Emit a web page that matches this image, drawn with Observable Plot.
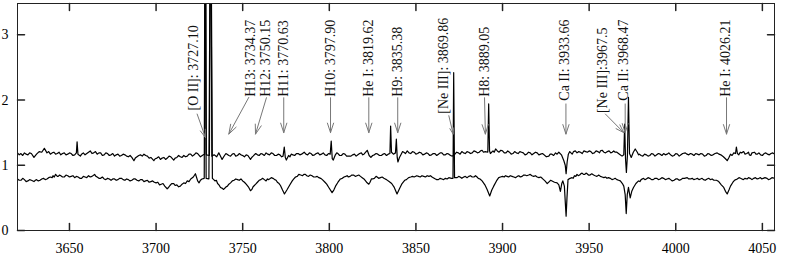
<!DOCTYPE html>
<html>
<head>
<meta charset="utf-8">
<script src="https://cdn.jsdelivr.net/npm/d3@7"></script>
<script src="https://cdn.jsdelivr.net/npm/@observablehq/plot@0.6"></script>
<style>
  html, body { margin: 0; padding: 0; background: #fff; }
  #chart svg { display: block; }
</style>
</head>
<body>
<div id="chart"></div>
<script>
// ---- Data ----
const xTicks = [3650, 3700, 3750, 3800, 3850, 3900, 3950, 4000, 4050];
const yTicks = [0, 1, 2, 3];

// upper spectrum [wavelength, flux]
const upperSpectrum = [
[3620,1.19],[3621,1.16],[3622,1.18],[3623,1.15],[3624,1.19],[3625,1.17],[3626,1.16],[3627,1.19],[3628,1.18],[3629.5,1.12],[3631,1.17],[3632.5,1.21],[3634,1.20],[3635.5,1.26],
[3637,1.19],[3638,1.21],[3639,1.17],[3640,1.19],[3641,1.20],[3642,1.17],[3643,1.18],[3644,1.20],[3645,1.16],[3646,1.18],[3647,1.19],[3648,1.16],[3649,1.17],[3650,1.19],[3651,1.18],[3652,1.15],[3653,1.16],[3654,1.19],
[3654.4,1.36],[3654.9,1.17],[3656.3,1.14],[3657,1.17],[3658,1.19],[3659,1.16],[3660,1.18],[3661,1.20],[3662,1.22],[3663,1.18],[3664,1.19],[3665,1.21],[3666,1.17],[3667,1.19],[3668,1.19],[3669,1.15],[3670,1.16],
[3671,1.19],[3672,1.18],[3673,1.15],[3674,1.16],[3675,1.18],[3676,1.14],[3677,1.16],[3678,1.17],[3679,1.14],[3680,1.15],[3681,1.17],[3682,1.16],[3683,1.14],[3684,1.13],[3685,1.15],[3686,1.12],[3687.2,1.07],[3688,1.11],[3689,1.13],
[3690,1.15],[3691,1.16],[3692,1.14],[3693,1.17],[3694,1.15],[3695,1.14],[3696,1.11],[3697,1.12],[3698.7,1.07],[3699.5,1.10],[3700.5,1.11],[3701.5,1.13],[3702.5,1.09],[3703.5,1.11],[3704.5,1.12],[3705.5,1.09],[3706.5,1.11],[3707.5,1.14],[3708.5,1.13],
[3710.2,1.08],[3711,1.11],[3712,1.12],[3713,1.15],[3714,1.13],[3715,1.12],[3716,1.15],[3717,1.13],[3718,1.14],[3719,1.17],[3720,1.17],[3721,1.14],[3722,1.16],[3723,1.19],[3724,1.18],[3725.6,1.13],[3727.3,1.16],
[3728.0,1.17],[3728.5,6],[3729.0,1.16],[3730.8,1.15],[3731.5,6],[3732.2,1.14],[3733.5,1.16],[3735,1.13],[3736.2,1.19],[3737,1.15],[3738.1,1.09],
[3739.5,1.15],[3740.3,1.18],[3741,1.17],[3742,1.15],[3743,1.14],[3744,1.17],[3745,1.18],[3746,1.14],[3747,1.15],[3748,1.18],[3749,1.16],[3750,1.15],[3751,1.13],[3752,1.16],[3753,1.15],[3754.5,1.09],[3755.2,1.12],[3756,1.14],
[3757.5,1.18],[3758.5,1.16],[3759.5,1.15],[3760.5,1.18],[3761.5,1.17],[3762.5,1.15],[3763.5,1.19],[3764.5,1.17],[3765.5,1.16],[3766.5,1.19],[3767.5,1.18],[3768.5,1.15],[3769.5,1.15],[3770.5,1.17],[3771.5,1.16],[3772.5,1.13],[3773.3,1.14],[3774.0,1.28],
[3774.6,1.12],[3775.2,1.08],[3776.5,1.15],[3777.3,1.13],[3778,1.17],[3779,1.16],[3780,1.15],[3781,1.18],[3782,1.18],[3783,1.16],[3784,1.17],[3785.5,1.20],[3786.5,1.17],[3787.5,1.16],[3788.5,1.19],[3789.5,1.18],
[3790.5,1.15],[3791.5,1.16],[3792.5,1.18],[3793.5,1.19],[3794.5,1.16],[3795.5,1.17],[3796.5,1.19],[3797.5,1.16],[3798.5,1.15],[3799.5,1.18],[3800.5,1.17],[3801.1,1.37],[3801.7,1.10],[3802.3,1.08],[3803.5,1.16],
[3804.3,1.19],[3805,1.18],[3806,1.15],[3807,1.15],[3808,1.18],[3809,1.17],[3810,1.14],[3811,1.14],[3812.5,1.14],[3813.5,1.16],[3814.5,1.17],[3815.5,1.14],[3816.5,1.16],[3817.5,1.18],[3818.5,1.19],[3819.3,1.16],[3820,1.17],[3821.9,1.23],
[3823,1.15],[3824,1.12],[3825,1.15],[3826,1.16],[3827,1.18],[3828,1.17],[3829,1.15],[3830,1.15],[3831,1.17],[3832,1.18],[3833,1.15],[3834,1.17],[3835.0,1.18],[3835.4,1.60],[3835.9,1.20],
[3837,1.17],[3838.2,1.19],[3838.7,1.40],[3839.2,1.12],[3839.6,1.05],[3840.5,1.12],[3841.5,1.17],[3842.3,1.21],[3843,1.20],[3844,1.18],[3845,1.22],[3846,1.19],[3847,1.18],[3848,1.21],
[3849,1.20],[3850,1.17],[3851,1.18],[3852,1.20],[3853,1.19],[3854,1.16],[3855,1.17],[3856,1.19],[3857,1.18],[3858,1.15],[3859,1.16],[3860,1.18],[3861,1.18],[3862,1.15],[3863,1.17],[3864,1.19],[3865,1.19],[3866,1.16],[3867,1.16],
[3868,1.18],[3869,1.17],[3870,1.15],[3871,1.14],[3872.5,1.17],[3873.5,1.20],[3874.5,1.19],[3875.5,1.17],[3876.5,1.21],[3877.5,1.19],[3878.5,1.18],[3879.5,1.21],[3880.5,1.20],[3881.5,1.18],[3882.5,1.19],[3883.5,1.22],[3884.5,1.21],[3885.5,1.19],[3886.5,1.20],
[3887.3,1.22],[3888.2,1.23],[3889,1.20],[3890,1.21],[3891.5,1.20],[3892.0,1.94],[3892.5,1.22],[3893,1.18],[3894.5,1.22],[3895.2,1.20],[3896,1.25],[3897,1.22],[3898,1.20],[3899,1.23],[3900,1.22],
[3901,1.19],[3902,1.19],[3903,1.22],[3904,1.20],[3905,1.17],[3906,1.18],[3907,1.21],[3908,1.19],[3909,1.18],[3910,1.21],[3911,1.20],[3912,1.19],[3913,1.16],[3914,1.17],[3915,1.20],[3916,1.19],[3917,1.16],[3918,1.18],[3919,1.20],[3920,1.19],
[3921,1.16],[3922,1.17],[3923,1.18],[3924,1.16],[3925.3,1.13],[3926.7,1.14],[3927.5,1.17],[3928.5,1.17],[3929.5,1.15],[3930.6,1.19],[3931.5,1.17],[3932.5,1.20],[3934,1.16],[3935.4,1.07],[3936.2,1.00],[3936.7,0.87],
[3937.3,1.05],[3938,1.17],[3938.8,1.21],[3939.5,1.19],[3940.2,1.17],[3941,1.21],[3942,1.22],[3943,1.19],[3944,1.21],[3945,1.20],[3946,1.18],[3947,1.22],[3948,1.21],[3949,1.20],[3950,1.22],[3951,1.21],[3952,1.18],[3953,1.19],
[3954,1.22],[3955,1.21],[3956,1.19],[3956.5,1.22],[3957.5,1.23],[3958.5,1.20],[3959.5,1.19],[3960.5,1.21],[3961.5,1.22],[3962.5,1.19],[3963.3,1.20],[3964.2,1.22],[3965,1.20],[3966,1.20],[3967.5,1.17],[3969,1.14],[3970.0,1.16],
[3970.5,1.63],[3971.0,1.10],[3971.5,0.89],[3972.1,1.15],[3972.7,2.04],[3973.3,1.18],[3974.3,1.12],[3975.5,1.20],[3976.6,1.25],[3977.8,1.20],
[3978.5,1.16],[3979,1.17],[3980,1.15],[3981,1.14],[3982,1.17],[3983,1.16],[3984,1.14],[3985,1.15],[3986,1.18],[3987,1.17],[3988,1.14],[3989,1.16],[3990,1.18],[3991,1.17],[3992,1.15],[3993,1.18],[3994,1.16],[3995,1.17],[3996,1.19],[3997,1.16],
[3998,1.14],[3999,1.15],[4000,1.18],[4001,1.17],[4002,1.14],[4003,1.16],[4004,1.18],[4005.5,1.19],[4006.5,1.17],[4007.5,1.16],[4008.5,1.18],[4009.5,1.17],[4010.5,1.15],[4011.5,1.18],[4012.5,1.17],[4013.5,1.16],[4014.5,1.18],[4015.5,1.17],[4016.5,1.14],[4017.5,1.15],
[4018.5,1.18],[4019.5,1.17],[4020.5,1.15],[4021.5,1.16],[4022.7,1.18],[4023.9,1.19],[4025,1.17],[4026,1.16],[4027.5,1.13],[4028.7,1.10],[4029.7,1.07],[4030.7,1.12],[4031.6,1.17],[4032.5,1.15],[4033.5,1.19],[4034.5,1.18],[4035,1.28],
[4035.6,1.18],[4036.4,1.16],[4037.2,1.20],[4038,1.19],[4039.2,1.21],[4040,1.17],[4041,1.18],[4042,1.20],[4042.5,1.16],[4043.3,1.15],[4044,1.19],[4045.5,1.20],[4046.3,1.17],[4047,1.17],[4048,1.19],[4049,1.16],
[4050,1.15],[4051,1.18],[4052,1.19],[4053,1.17],[4054,1.16],[4055,1.18],[4056,1.19],[4057,1.17]
];

// lower spectrum [wavelength, flux]
const lowerSpectrum = [
[3620,0.79],[3621,0.77],[3622,0.77],[3623,0.80],[3624,0.78],[3625,0.75],[3626,0.76],[3627,0.78],[3628,0.77],[3629.5,0.75],[3630.3,0.77],[3631,0.78],[3632,0.76],[3633,0.77],[3634,0.79],[3635,0.80],[3636,0.78],[3637,0.79],
[3638,0.81],[3639,0.82],[3640,0.81],[3640.5,0.84],[3641.2,0.82],[3642,0.86],[3643,0.83],[3643.5,0.83],[3644.3,0.85],[3645,0.84],[3646,0.82],[3647,0.82],[3648,0.85],[3649,0.84],[3650,0.82],[3651,0.83],[3652,0.84],[3653,0.81],[3654,0.83],[3655,0.82],
[3656,0.80],[3657,0.80],[3658,0.83],[3659,0.82],[3660,0.81],[3661,0.84],[3662,0.82],[3663,0.83],[3664.5,0.86],[3665.3,0.83],[3666,0.82],[3667,0.80],[3668,0.80],[3669,0.82],[3670,0.79],[3671,0.78],[3672,0.80],[3673,0.79],[3674,0.77],
[3675,0.79],[3676,0.79],[3677,0.77],[3678,0.78],[3679,0.80],[3680,0.80],[3681,0.78],[3682,0.77],[3683,0.79],[3684,0.78],[3685,0.76],[3686,0.77],[3687,0.79],[3688,0.79],[3689,0.77],[3690,0.76],[3691,0.78],[3692,0.78],[3693,0.75],[3694,0.76],
[3695,0.77],[3696,0.74],[3697,0.75],[3698,0.76],[3699,0.74],[3700,0.73],[3701,0.74],[3702,0.70],[3703,0.71],[3704,0.72],[3705,0.68],[3706.4,0.64],[3707.2,0.66],[3708,0.69],[3709,0.72],[3710.2,0.72],[3711,0.69],[3712,0.70],[3713,0.67],[3714,0.68],
[3715,0.71],[3716,0.73],[3717,0.72],[3718,0.76],[3719,0.75],[3720,0.79],[3721.5,0.82],[3722.7,0.87],[3724,0.76],[3724.8,0.73],[3725.6,0.77],[3726.5,0.79],[3727.8,0.80],[3728.3,6],
[3728.9,0.80],[3730.5,0.79],[3731.5,6],[3732.5,0.80],[3733.3,0.78],[3734,0.76],[3734.8,0.77],[3735.5,0.72],[3736.3,0.70],[3737.2,0.66],[3738,0.65],[3739,0.63],[3740.5,0.67],[3741.2,0.68],[3742,0.71],
[3743,0.73],[3744,0.76],[3745,0.77],[3746,0.79],[3747,0.78],[3748,0.77],[3749,0.79],[3750,0.76],[3751,0.74],[3752,0.71],[3753.5,0.66],[3754.5,0.61],[3755.3,0.63],[3756,0.67],[3757.5,0.71],[3758.5,0.74],[3759.5,0.77],
[3760.5,0.78],[3761.5,0.80],[3762.5,0.78],[3763.5,0.76],[3764.3,0.79],[3765,0.78],[3766.5,0.81],[3767.5,0.80],[3768.5,0.78],[3769.3,0.77],[3770,0.74],[3771,0.72],[3771.8,0.69],[3773,0.62],[3774.1,0.56],[3775.5,0.62],
[3777,0.69],[3778.6,0.76],[3779.5,0.79],[3780.5,0.82],[3781.5,0.83],[3782.4,0.86],[3783.5,0.85],[3784.5,0.84],[3785.3,0.86],[3786.2,0.86],[3787,0.84],[3788,0.83],[3789,0.85],[3790,0.84],[3791,0.82],[3792,0.82],[3793,0.83],[3794,0.81],
[3795,0.80],[3796,0.78],[3797.5,0.74],[3798.5,0.71],[3799.7,0.66],[3801.6,0.58],[3802.6,0.62],[3803.6,0.68],[3805,0.74],[3806.4,0.79],[3807.5,0.80],[3808.5,0.82],[3809.5,0.83],[3810.3,0.84],[3811,0.82],[3812,0.83],
[3813,0.85],[3814,0.85],[3815,0.83],[3816,0.84],[3817,0.85],[3818,0.83],[3819,0.81],[3820,0.79],[3821.5,0.74],[3822.8,0.71],[3823.5,0.74],[3824.3,0.79],[3825,0.79],[3826,0.80],[3827,0.83],[3827.6,0.82],[3828.5,0.80],[3829.5,0.81],
[3830.5,0.82],[3831.5,0.80],[3832.3,0.79],[3833,0.78],[3834.5,0.75],[3836,0.72],[3837.5,0.66],[3839.1,0.56],[3840.5,0.64],[3842,0.72],[3843.5,0.77],[3844.5,0.78],[3845.8,0.81],
[3847,0.82],[3848,0.83],[3849,0.82],[3850.5,0.84],[3851.5,0.83],[3852.5,0.82],[3853.5,0.84],[3854.5,0.83],[3855.5,0.82],[3856.5,0.84],[3857.5,0.83],[3858.4,0.84],[3859.3,0.82],[3860,0.81],[3861.3,0.79],[3862,0.78],[3863,0.78],[3864,0.80],[3865,0.79],
[3866,0.78],[3867,0.80],[3868,0.79],[3869,0.81],[3870.5,0.80],[3871.4,0.80],[3871.8,2.42],[3872.3,0.81],[3873.8,0.81],[3874.7,0.83],[3875.5,0.82],[3876.5,0.80],[3877.6,0.82],[3878.5,0.83],[3879.5,0.81],
[3880.5,0.83],[3881.5,0.84],[3882.5,0.82],[3883.5,0.82],[3884.4,0.84],[3885.3,0.82],[3886,0.80],[3887,0.79],[3888.2,0.76],[3889.8,0.70],[3891.1,0.63],[3892.6,0.53],[3893.8,0.62],[3894.9,0.68],
[3896.5,0.76],[3897.8,0.81],[3898.8,0.82],[3900,0.83],[3901,0.82],[3901.7,0.84],[3902.6,0.83],[3903.5,0.82],[3904.5,0.84],[3905.5,0.83],[3906.5,0.82],[3907.5,0.81],[3908.5,0.83],[3909.4,0.84],[3910.3,0.82],[3911.3,0.83],[3912.2,0.85],[3913,0.85],
[3914,0.84],[3915.1,0.85],[3916,0.86],[3917,0.84],[3918,0.83],[3919,0.84],[3920,0.82],[3921,0.81],[3922,0.82],[3922.9,0.80],[3924.5,0.76],[3925.8,0.72],[3927,0.75],[3927.8,0.77],[3928.6,0.76],[3930,0.74],
[3931.5,0.73],[3932.5,0.70],[3933.4,0.60],[3934.2,0.72],[3934.8,0.76],[3935.7,0.68],[3936.3,0.40],[3936.7,0.22],[3937.2,0.50],[3937.8,0.78],
[3939,0.80],[3940.1,0.81],[3940.8,0.80],[3941.5,0.84],[3942.3,0.83],[3943,0.86],[3943.7,0.84],[3944.5,0.85],[3945.2,0.87],[3945.9,0.88],[3946.7,0.86],[3947.5,0.86],[3948.2,0.88],[3948.8,0.87],[3949.6,0.85],[3950.5,0.85],[3951.5,0.87],[3952.6,0.85],
[3953.5,0.84],[3954.5,0.83],[3955.5,0.85],[3956.5,0.83],[3957.5,0.82],[3958.5,0.81],[3959.4,0.82],[3960.3,0.80],[3961.2,0.81],[3962.2,0.80],[3963.2,0.78],[3964.2,0.79],[3965,0.80],[3966,0.78],[3967,0.77],[3968,0.76],[3969.2,0.72],[3970,0.68],
[3970.8,0.55],[3971.4,0.26],[3972.0,0.55],[3972.7,0.66],[3973.7,0.50],[3974.6,0.60],[3975.6,0.66],[3977,0.72],[3978.5,0.76],[3979.3,0.75],[3980,0.78],
[3981.4,0.80],[3982.2,0.78],[3983,0.79],[3984,0.81],[3985,0.80],[3986,0.78],[3987,0.78],[3988,0.80],[3989,0.80],[3990,0.78],[3991,0.79],[3992,0.81],[3993,0.80],[3994,0.78],[3995,0.79],[3996,0.80],[3997,0.78],[3998,0.76],[3999,0.77],
[4000,0.79],[4001,0.79],[4002,0.77],[4003,0.78],[4004,0.80],[4005,0.80],[4006.6,0.81],[4007.5,0.79],[4008.5,0.79],[4009.5,0.80],[4010.4,0.78],[4011.5,0.79],[4012.5,0.80],[4013.4,0.78],[4014.3,0.79],[4015.2,0.80],[4016,0.78],[4017,0.77],[4018.1,0.79],
[4019,0.80],[4020,0.78],[4021,0.79],[4022,0.77],[4023.5,0.77],[4024.8,0.75],[4026.3,0.70],[4027.7,0.66],[4028.7,0.60],[4029.7,0.56],[4030.7,0.62],[4031.6,0.68],
[4033,0.74],[4033.9,0.77],[4034.7,0.78],[4035.5,0.79],[4036.5,0.81],[4037.4,0.80],[4038.2,0.79],[4039,0.78],[4040,0.80],[4041.2,0.79],[4042,0.81],[4043,0.80],[4044,0.78],[4045,0.80],[4046,0.81],[4047,0.79],[4048,0.80],[4048.9,0.81],
[4049.7,0.79],[4050.5,0.80],[4051.5,0.81],[4052.7,0.80],[4053.5,0.78],[4054.5,0.79],[4055.5,0.81],[4057,0.80]
];

// line identifications
const lineLabels = ["[O II]: 3727.10", "H13: 3734.37", "H12: 3750.15", "H11: 3770.63", "H10: 3797.90",
  "He I: 3819.62", "H9: 3835.38", "[Ne III]: 3869.86", "H8: 3889.05", "Ca II: 3933.66",
  "[Ne III]:3967.5", "Ca II: 3968.47", "He I: 4026.21"];
const labelX = [3721.4, 3754.5, 3763.4, 3773.7, 3800.7, 3822.8, 3839.5, 3866.1, 3889.6, 3935.5, 3957.5, 3970.0, 4028.7];
const labelY = [1.84, 2.05, 2.05, 2.05, 2.05, 2.05, 2.05, 1.79, 2.05, 1.99, 1.80, 1.99, 2.05];
const arrowX1 = [3723.7, 3753.5, 3763.7, 3773.7, 3800.7, 3822.8, 3839.5, 3869.0, 3889.6, 3936.6, 3959.4, 3970.8, 4029.3];
const arrowY1 = [1.785, 2.04, 2.035, 2.035, 2.035, 2.035, 2.035, 1.76, 2.035, 1.94, 1.785, 1.94, 2.035];
const arrowX2 = [3728.5, 3742.0, 3757.4, 3773.7, 3800.7, 3822.8, 3839.5, 3871.5, 3890.1, 3936.6, 3970.0, 3970.8, 4029.3];
const arrowY2 = [1.425, 1.478, 1.478, 1.50, 1.50, 1.50, 1.50, 1.478, 1.478, 1.478, 1.50, 1.50, 1.478];

// ---- Build ----
const annotations = lineLabels.map((t, i) => ({
  text: t, lx: labelX[i], ly: labelY[i],
  x1: arrowX1[i], y1: arrowY1[i], x2: arrowX2[i], y2: arrowY2[i]
}));

const FONT = "'Liberation Serif', 'Times New Roman', serif";
const tickShape = {draw(context, l) { context.moveTo(0, 0); context.lineTo(0, -l); }};
const frameColor = "#222";
const TL = 7;
const fmt = d => String(d);

const chart = Plot.plot({
  width: 789,
  height: 263,
  marginLeft: 17,
  marginRight: 15,
  marginTop: 3,
  marginBottom: 33,
  style: {fontFamily: FONT, fontSize: "14px", color: "#000", background: "#fff"},
  x: {domain: [3620, 4057]},
  y: {domain: [0, 3.48]},
  marks: [
    Plot.line(upperSpectrum, {x: d => d[0], y: d => d[1], stroke: "#000", strokeWidth: 1.2, clip: true}),
    Plot.line(lowerSpectrum, {x: d => d[0], y: d => d[1], stroke: "#000", strokeWidth: 1.2, clip: true}),
    Plot.arrow(annotations, {x1: "x1", y1: "y1", x2: "x2", y2: "y2", stroke: "#777", strokeWidth: 1, headLength: 15, headAngle: 36}),
    Plot.text(annotations, {x: "lx", y: "ly", text: "text", rotate: -90, textAnchor: "start", lineAnchor: "middle",
      fontSize: 14, fontFamily: FONT, fill: "#111"}),
    // inward ticks on all four sides
    Plot.vector(xTicks, {x: d => d, frameAnchor: "bottom", length: TL, rotate: 0, anchor: "start", shape: tickShape, stroke: frameColor}),
    Plot.vector(xTicks, {x: d => d, frameAnchor: "top", length: TL, rotate: 180, anchor: "start", shape: tickShape, stroke: frameColor}),
    Plot.vector(yTicks, {y: d => d, frameAnchor: "left", length: TL, rotate: 90, anchor: "start", shape: tickShape, stroke: frameColor}),
    Plot.vector(yTicks, {y: d => d, frameAnchor: "right", length: TL, rotate: -90, anchor: "start", shape: tickShape, stroke: frameColor}),
    Plot.axisX(xTicks, {tickSize: 0, tickPadding: 13, tickFormat: fmt, label: null, fontSize: 14, fontFamily: FONT, fill: "#000"}),
    Plot.axisY(yTicks, {tickSize: 0, tickPadding: 9, tickFormat: fmt, label: null, fontSize: 14, fontFamily: FONT, fill: "#000"}),
    Plot.frame({stroke: frameColor, strokeWidth: 1})
  ]
});
document.getElementById("chart").appendChild(chart);
</script>
</body>
</html>
